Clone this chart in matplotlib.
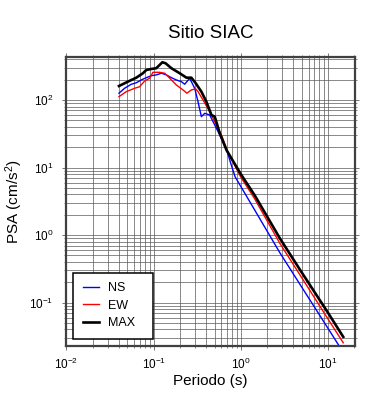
import numpy as np
import matplotlib
matplotlib.use('Agg')
import matplotlib.pyplot as plt
from matplotlib.ticker import LogLocator, NullFormatter

plt.rcParams['font.family'] = ['Liberation Sans', 'DejaVu Sans']
plt.rcParams['mathtext.fontset'] = 'custom'
plt.rcParams['mathtext.rm'] = 'Liberation Sans'
plt.rcParams['mathtext.it'] = 'Liberation Sans:italic'
plt.rcParams['mathtext.bf'] = 'Liberation Sans:bold'

# Periodo (s) y PSA (cm/s2)
periodo_ns = [0.040, 0.0464, 0.0554, 0.0633, 0.0722, 0.0824, 0.0941, 0.107, 0.123, 0.140,
              0.160, 0.182, 0.208, 0.227, 0.259, 0.296, 0.323, 0.353, 0.386, 0.440,
              0.481, 0.574, 0.690, 0.778, 0.860, 1.45, 2.81, 4.77, 10.0, 15.0]
psa_ns = [126, 149, 171, 180, 198, 214, 229, 235, 249, 235,
          214, 198, 187, 171, 210, 149, 94.4, 56.6, 63.5, 60,
          47.7, 30.3, 18.2, 10.9, 7.31, 2.33, 0.547, 0.187, 0.0418, 0.0183]

periodo_ew = [0.040, 0.0486, 0.0605, 0.0690, 0.0788, 0.0900, 0.0982, 0.117, 0.134, 0.153,
              0.182, 0.217, 0.241, 0.271, 0.304, 0.323, 0.369, 0.440, 0.526, 0.600,
              0.709, 1.0, 1.45, 2.81, 4.77, 10.0, 15.0]
psa_ew = [112, 133, 149, 157, 191, 210, 257, 257, 249, 210,
          167, 141, 126, 141, 146, 133, 100, 67.1, 42.6, 30.3,
          17.0, 7.23, 3.41, 0.753, 0.258, 0.0575, 0.0254]

periodo_max = [0.040, 0.0507, 0.0633, 0.0754, 0.0824, 0.0941, 0.107, 0.117, 0.126, 0.137,
               0.160, 0.199, 0.238, 0.271, 0.304, 0.353, 0.403, 0.460, 0.503, 0.574,
               0.685, 1.0, 1.45, 2.81, 4.77, 10.0, 15.0]
psa_max = [161, 187, 214, 249, 278, 288, 295, 330, 362, 350,
           295, 249, 214, 214, 177, 133, 94.4, 60, 56.6, 32.1,
           18.2, 8.0, 3.85, 0.894, 0.308, 0.0711, 0.0311]

fig = plt.figure(figsize=(3.9, 4.0), dpi=100)
ax = fig.add_axes([0.1705, 0.136, 0.7395, 0.7215])

ax.plot(periodo_ns, psa_ns, color='blue', lw=1.0, label='NS')
ax.plot(periodo_ew, psa_ew, color='red', lw=1.0, label='EW')
ax.plot(periodo_max, psa_max, color='black', lw=1.9, label='MAX')

ax.set_xscale('log')
ax.set_yscale('log')
ax.set_xlim(0.01, 20.4)
ax.set_ylim(0.0231, 433)

for axis in (ax.xaxis, ax.yaxis):
    axis.set_major_locator(LogLocator(base=10, numticks=20))
    axis.set_minor_locator(LogLocator(base=10, subs=np.arange(2, 10), numticks=100))
    axis.set_minor_formatter(NullFormatter())

ax.grid(True, which='both', color='0.35', lw=0.5)
ax.set_axisbelow(True)

ax.tick_params(which='both', direction='out', top=True, right=True, color='0.45', labelsize=8.5)
ax.tick_params(which='major', length=3, width=0.7)
ax.tick_params(which='minor', length=1.5, width=0.6)
ax.tick_params(axis='x', pad=5)
ax.tick_params(axis='y', pad=6.5)

for sp in ax.spines.values():
    sp.set_color('0.25')
    sp.set_linewidth(1.6)

ax.set_title('Sitio SIAC', fontsize=13.5, pad=14)
ax.set_xlabel('Periodo (s)', fontsize=11)
ax.set_ylabel('PSA (cm/s$^{2}$)', fontsize=11)
ax.xaxis.set_label_coords(0.5, -0.1)
ax.yaxis.set_label_coords(-0.145, 0.5)

leg = ax.legend(loc='lower left', bbox_to_anchor=(0.0236, 0.0236, 0.277, 0.25), mode='expand',
                fontsize=9, handlelength=1.3, handletextpad=0.7, labelspacing=0.45,
                borderpad=0.75, borderaxespad=0, fancybox=False, framealpha=1)
leg.get_frame().set_edgecolor('black')
leg.get_frame().set_linewidth(1.1)

fig.savefig('out.png', dpi=100)
